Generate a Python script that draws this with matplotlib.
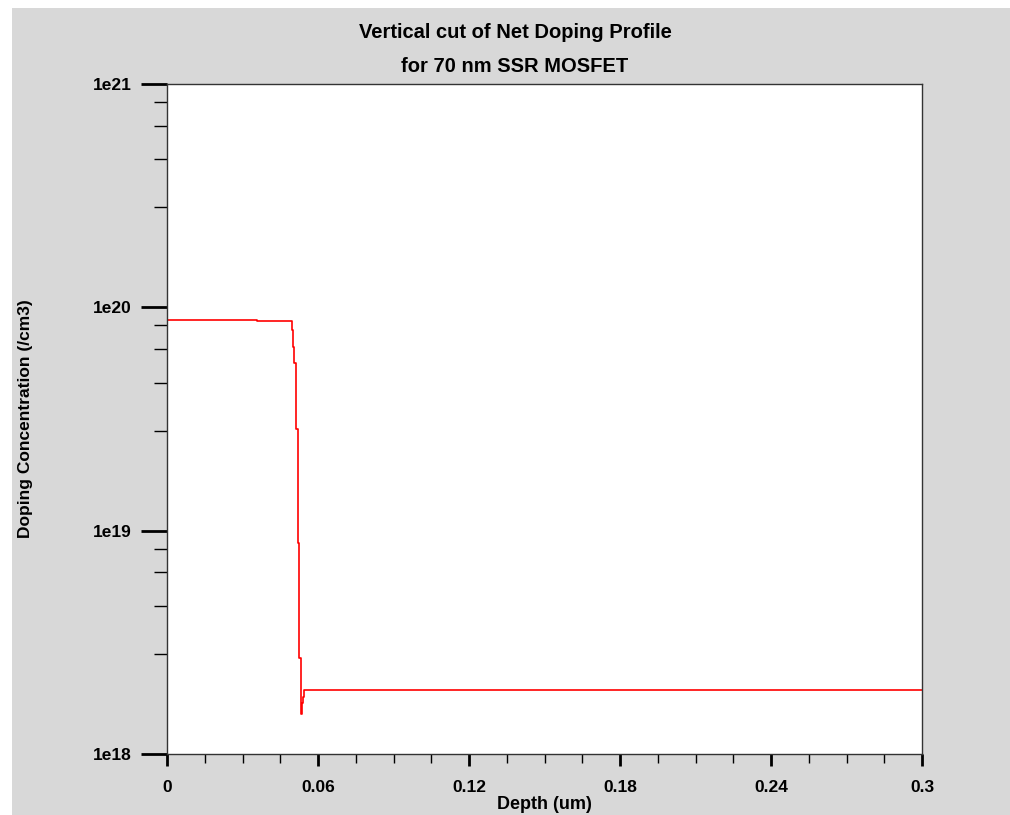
import matplotlib
matplotlib.use("Agg")
import matplotlib.pyplot as plt
from matplotlib.patches import Rectangle
from matplotlib.ticker import FixedLocator, FixedFormatter, MultipleLocator

# net doping along the vertical cut (steps-post corners)
depth_um = [0.0, 0.0358, 0.0498, 0.0502, 0.0506, 0.0513, 0.0519,
            0.0526, 0.0531, 0.0536, 0.0540, 0.0544, 0.3]
doping = [8.79e19, 8.66e19, 7.94e19, 6.64e19, 5.63e19, 2.86e19, 8.77e18,
          2.70e18, 1.51e18, 1.70e18, 1.80e18, 1.93e18, 1.93e18]

x_ticks = [0, 0.06, 0.12, 0.18, 0.24, 0.3]
x_labels = ["0", "0.06", "0.12", "0.18", "0.24", "0.3"]
y_ticks = [1e18, 1e19, 1e20, 1e21]
y_labels = ["1e18", "1e19", "1e20", "1e21"]
minor_mult = [2.8, 4.6, 6.5, 8.3]

plt.rcParams["font.family"] = ["Liberation Sans", "DejaVu Sans"]

fig = plt.figure(figsize=(10.10, 8.15), dpi=100, facecolor="white")
fig.patches.append(Rectangle((12 / 1010, 0), 1 - 12 / 1010, 1 - 8 / 815,
                             transform=fig.transFigure, facecolor="#d8d8d8",
                             edgecolor="none", zorder=-10))

ax = fig.add_axes([167 / 1010, 61 / 815, 755 / 1010, 670 / 815])
ax.set_facecolor("white")
ax.plot(depth_um, doping, color="#ff0000", lw=1.2, drawstyle="steps-post")

ax.set_yscale("log")
ax.set_xlim(0, 0.3)
ax.set_ylim(1e18, 1e21)

ax.xaxis.set_major_locator(FixedLocator(x_ticks))
ax.xaxis.set_major_formatter(FixedFormatter(x_labels))
ax.xaxis.set_minor_locator(MultipleLocator(0.015))
ax.yaxis.set_major_locator(FixedLocator(y_ticks))
ax.yaxis.set_major_formatter(FixedFormatter(y_labels))
minor_y = [m * d for d in y_ticks[:-1] for m in minor_mult]
ax.yaxis.set_minor_locator(FixedLocator(minor_y))
ax.yaxis.set_minor_formatter(FixedFormatter([""] * len(minor_y)))

ax.tick_params(axis="x", which="major", length=8.6, width=2.0, pad=10,
               labelsize=12.5, direction="out")
ax.tick_params(axis="x", which="minor", length=6.5, width=1.0, direction="out")
ax.tick_params(axis="y", which="major", length=18.7, width=2.0, pad=7,
               labelsize=12.5, direction="out")
ax.tick_params(axis="y", which="minor", length=9.4, width=1.0, direction="out")
for lab in ax.get_xticklabels() + ax.get_yticklabels():
    lab.set_fontweight("bold")

for sp in ax.spines.values():
    sp.set_color("#333333")
    sp.set_linewidth(1.0)

ax.set_xlabel("Depth (um)", fontsize=13, fontweight="bold", va="top")
ax.xaxis.set_label_coords(0.5, -0.062)
ax.set_ylabel("Doping Concentration (/cm3)", fontsize=12.5, fontweight="bold")
ax.yaxis.set_label_coords(-0.177, 0.5)

fig.text(515 / 1010, 1 - 38 / 815, "Vertical cut of Net Doping Profile",
         ha="center", va="baseline", fontsize=14.5, fontweight="bold")
fig.text(515 / 1010, 1 - 72.5 / 815, "for 70 nm SSR MOSFET",
         ha="center", va="baseline", fontsize=14.5, fontweight="bold")

fig.savefig("out.png", dpi=100, facecolor=fig.get_facecolor())
